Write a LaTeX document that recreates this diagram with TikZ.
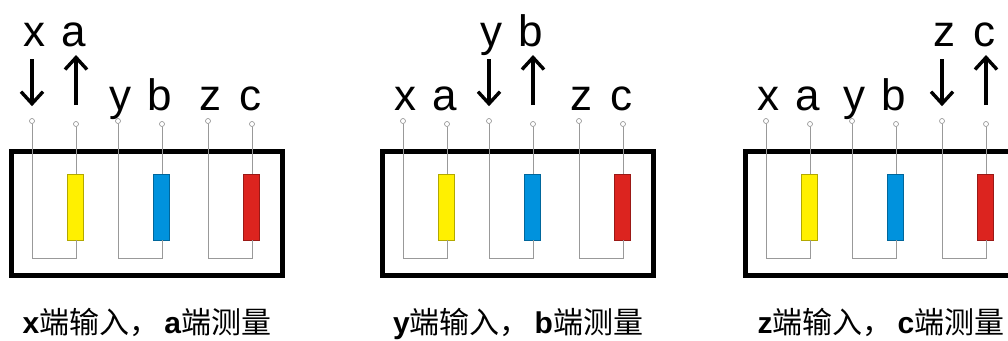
\documentclass[tikz,border=0pt]{standalone}
\usepackage{fontspec}
\setmainfont{Liberation Sans}
\newfontfamily\cjk{Noto Sans CJK SC}
\usetikzlibrary{arrows.meta}
\definecolor{resYellow}{RGB}{255,240,0}
\definecolor{resBlue}{RGB}{0,146,221}
\definecolor{resRed}{RGB}{220,36,31}
\begin{document}
\begin{tikzpicture}[
  x=1pt, y=-1pt,
  casebox/.style={draw, line width=5pt, minimum width=271pt, minimum height=124pt, inner sep=0pt},
  term/.style={circle, draw=black!45, fill=white, line width=0.6pt, minimum size=5pt, inner sep=0pt},
  res/.style={rectangle, line width=0.6pt, minimum width=16pt, minimum height=66pt, inner sep=0pt},
  wire/.style={draw=black!40, line width=0.8pt},
  lbl/.style={font=\fontsize{44}{44}\selectfont, inner sep=0pt, text height=32pt, text depth=0pt, anchor=south},
  sigarrow/.style={line width=3.4pt, -{Straight Barb[length=12pt,width=22pt]}},
  captext/.style={font=\fontsize{30}{30}\selectfont, inner sep=0pt, anchor=base},
]
  \useasboundingbox (0,0) rectangle (1008,340);
  \foreach \dx/\p in {0/1, 371/2, 734/3} {
    \node[casebox] (box\p) at (\dx+147, 213.5) {};
    \foreach \k/\i/\o/\xi/\xo/\col in {1/x/a/32/76/resYellow, 2/y/b/118/162/resBlue, 3/z/c/208/252/resRed} {
      \ifnum\k=\p\relax \def\ly{47}\else \def\ly{111}\fi
      \node[term] (t\p\i) at (\dx+\xi, 121) {};
      \node[term] (t\p\o) at (\dx+\xo, 124) {};
      \node[res, fill=\col, draw=\col!70!black] (r\p\k) at (\dx+\xo-1, 207) {};
      \coordinate (b\p\k) at (\dx+\xo, 258);
      \node[lbl] (l\p\i) at (\dx+\xi+2, \ly) {\i};
      \node[lbl] (l\p\o) at (\dx+\xo-2, \ly) {\o};
      \draw[wire] (t\p\o) -- (t\p\o |- r\p\k.north);
      \draw[wire] (t\p\i) |- (b\p\k) -- (b\p\k |- r\p\k.south);
      \ifnum\k=\p\relax
        \draw[sigarrow, shorten <=12pt, shorten >=12pt] (t\p\i |- l\p\i.south) -- (t\p\i.north);
        \draw[sigarrow, shorten <=16pt, shorten >=8pt] (t\p\o.north) -- (t\p\o |- l\p\o.south);
        \node[captext] (cap\p) at (\dx+147, 333) {\textbf{\i}{\cjk 端输入，}\,\textbf{\o}{\cjk 端测量}};
      \fi
    }
  }
\end{tikzpicture}
\end{document}
